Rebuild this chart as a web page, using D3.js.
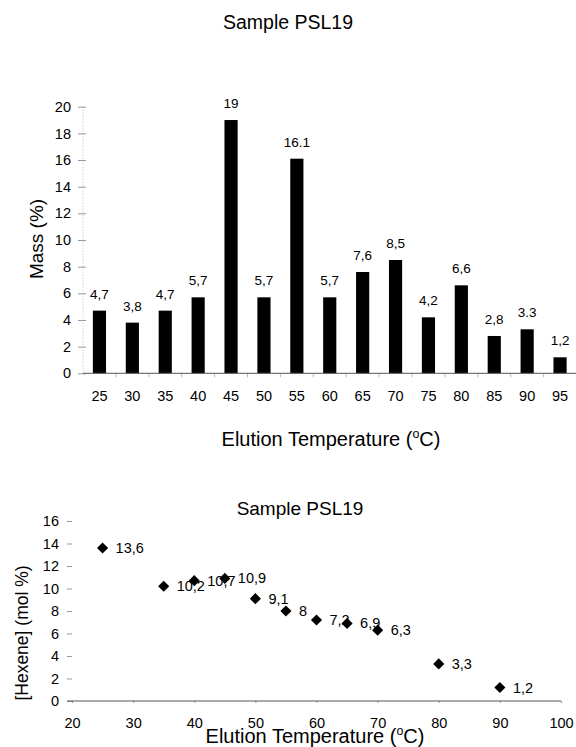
<!DOCTYPE html>
<html>
<head>
<meta charset="utf-8">
<script src="https://cdn.jsdelivr.net/npm/d3@7"></script>
<style>
  body { margin: 0; background: #fff; }
  text { font-family: "Liberation Sans", Arial, sans-serif; fill: #000; }
</style>
</head>
<body>
<div id="chart"></div>
<script>
// Data for the top bar chart (mass per elution temperature)
const massTemps = ["25", "30", "35", "40", "45", "50", "55", "60", "65", "70", "75", "80", "85", "90", "95"];
const massValues = [4.7, 3.8, 4.7, 5.7, 19, 5.7, 16.1, 5.7, 7.6, 8.5, 4.2, 6.6, 2.8, 3.3, 1.2];
const massLabels = ["4,7", "3,8", "4,7", "5,7", "19", "5,7", "16.1", "5,7", "7,6", "8,5", "4,2", "6,6", "2,8", "3.3", "1,2"];
const massTicks = [0, 2, 4, 6, 8, 10, 12, 14, 16, 18, 20];

// Data for the bottom scatter chart (hexene content)
const hexTemps = [25, 35, 40, 45, 50, 55, 60, 65, 70, 80, 90];
const hexValues = [13.6, 10.2, 10.7, 10.9, 9.1, 8, 7.2, 6.9, 6.3, 3.3, 1.2];
const hexLabels = ["13,6", "10,2", "10,7", "10,9", "9,1", "8", "7,2", "6,9", "6,3", "3,3", "1,2"];
const hexYTicks = [0, 2, 4, 6, 8, 10, 12, 14, 16];
const hexXTicks = [20, 30, 40, 50, 60, 70, 80, 90, 100];

const width = 576;
const height = 747;

const svg = d3
  .select("#chart")
  .append("svg")
  .attr("width", width)
  .attr("height", height);

// helper for the "Elution Temperature (°C)" title with superscript o
function tempTitle(g, x, y, size) {
  const t = g.append("text")
    .attr("x", x)
    .attr("y", y)
    .attr("text-anchor", "middle")
    .style("font-size", size + "px");
  t.append("tspan").text("Elution Temperature (");
  t.append("tspan").attr("dy", -size * 0.4).style("font-size", (size * 0.62) + "px").text("o");
  t.append("tspan").attr("dy", size * 0.4).text("C)");
}

// ---------- Top chart ----------
const x1 = d3.scaleBand()
  .domain(massTemps)
  .range([83, 576.5])
  .paddingInner(0.6)
  .paddingOuter(0.3);

const y1 = d3.scaleLinear().domain([0, 20]).range([373.3, 106.7]);

svg.append("text")
  .attr("x", 288)
  .attr("y", 29)
  .attr("text-anchor", "middle")
  .style("font-size", "19.5px")
  .text("Sample PSL19");

// faint vertical axis line
svg.append("line")
  .attr("x1", 83).attr("x2", 83)
  .attr("y1", y1(20)).attr("y2", y1(0))
  .attr("stroke", "#bbb")
  .attr("stroke-dasharray", "1,2");

const yAxis1 = svg.append("g")
  .attr("transform", "translate(86,0)")
  .call(d3.axisLeft(y1).tickValues(massTicks).tickSize(8).tickPadding(7));
yAxis1.select(".domain").remove();
yAxis1.selectAll(".tick line").attr("stroke", "#999");
yAxis1.selectAll(".tick text").style("font-size", "14.5px").style("font-family", "Liberation Sans, Arial, sans-serif");

// small ticks between categories
svg.append("g")
  .selectAll("line")
  .data(massTemps.slice(1))
  .enter()
  .append("line")
  .attr("x1", (d) => x1(d) - x1.step() * x1.paddingInner() / 2)
  .attr("x2", (d) => x1(d) - x1.step() * x1.paddingInner() / 2)
  .attr("y1", y1(0))
  .attr("y2", y1(0) + 4)
  .attr("stroke", "#bbb");

svg.append("g")
  .selectAll("rect")
  .data(massValues)
  .enter()
  .append("rect")
  .attr("x", (d, i) => x1(massTemps[i]))
  .attr("width", x1.bandwidth())
  .attr("y", (d) => y1(d))
  .attr("height", (d) => y1(0) - y1(d))
  .attr("fill", "#000");

// baseline
svg.append("line")
  .attr("x1", 83).attr("x2", 576)
  .attr("y1", y1(0)).attr("y2", y1(0))
  .attr("stroke", "#555");

svg.append("g")
  .selectAll("text")
  .data(massValues)
  .enter()
  .append("text")
  .attr("x", (d, i) => x1(massTemps[i]) + x1.bandwidth() / 2)
  .attr("y", (d) => y1(d) - 12)
  .attr("text-anchor", "middle")
  .style("font-size", "13.5px")
  .text((d, i) => massLabels[i]);

svg.append("g")
  .selectAll("text")
  .data(massTemps)
  .enter()
  .append("text")
  .attr("x", (d) => x1(d) + x1.bandwidth() / 2)
  .attr("y", 401)
  .attr("text-anchor", "middle")
  .style("font-size", "14.5px")
  .text((d) => d);

svg.append("text")
  .attr("transform", "translate(43,239) rotate(-90)")
  .attr("text-anchor", "middle")
  .style("font-size", "19px")
  .text("Mass (%)");

tempTitle(svg, 331, 446, 20);

// ---------- Bottom chart ----------
const x2 = d3.scaleLinear().domain([20, 100]).range([72, 561]);
const y2 = d3.scaleLinear().domain([0, 16]).range([701, 521]);

svg.append("text")
  .attr("x", 300)
  .attr("y", 515)
  .attr("text-anchor", "middle")
  .style("font-size", "19px")
  .text("Sample PSL19");

const yAxis2 = svg.append("g")
  .attr("transform", "translate(72,0)")
  .call(d3.axisLeft(y2).tickValues(hexYTicks).tickSize(5).tickPadding(8));
yAxis2.select(".domain").remove();
yAxis2.selectAll(".tick line").attr("stroke", "#999");
yAxis2.selectAll(".tick text").style("font-size", "14.5px").style("font-family", "Liberation Sans, Arial, sans-serif");

const xAxis2 = svg.append("g")
  .attr("transform", "translate(0,701)")
  .call(d3.axisBottom(x2).tickValues(hexXTicks).tickSize(2).tickPadding(15));
xAxis2.select(".domain").remove();
xAxis2.selectAll(".tick line").attr("stroke", "#999");
xAxis2.selectAll(".tick text").style("font-size", "14.5px").style("font-family", "Liberation Sans, Arial, sans-serif");

svg.append("line")
  .attr("x1", 67).attr("x2", x2(100))
  .attr("y1", y2(0)).attr("y2", y2(0))
  .attr("stroke", "#555");

// labels first, diamonds drawn over them
svg.append("g")
  .selectAll("text")
  .data(hexValues)
  .enter()
  .append("text")
  .attr("x", (d, i) => x2(hexTemps[i]) + 13)
  .attr("y", (d) => y2(d) + 5)
  .style("font-size", "14.5px")
  .text((d, i) => hexLabels[i]);

const diamond = d3.symbol().type(d3.symbolSquare).size(62);
svg.append("g")
  .selectAll("path")
  .data(hexValues)
  .enter()
  .append("path")
  .attr("d", diamond)
  .attr("transform", (d, i) => `translate(${x2(hexTemps[i])},${y2(d)}) rotate(45)`)
  .attr("fill", "#000");

svg.append("text")
  .attr("transform", "translate(28,633) rotate(-90)")
  .attr("text-anchor", "middle")
  .style("font-size", "17.5px")
  .text("[Hexene] (mol %)");

tempTitle(svg, 315, 743, 20);
</script>
</body>
</html>
